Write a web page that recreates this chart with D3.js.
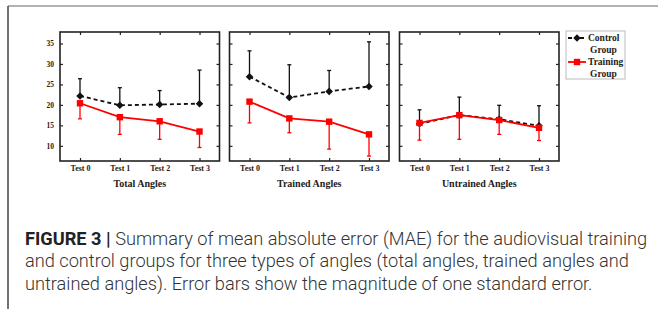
<!DOCTYPE html>
<html>
<head>
    <title>MAE chart</title>
    <script src="https://d3js.org/d3.v7.min.js"></script>
    <style>
        body { margin: 0; background: #fff; }
        svg text.serif { font-family: "Liberation Serif", "Times New Roman", serif; font-weight: bold; fill: #222; }
        svg text.cap { font-family: Roboto, "Liberation Sans", sans-serif; fill: #333; }
    </style>
</head>
<body>
    <div id="chart"></div>

    <script>
        var tests = ["Test 0", "Test 1", "Test 2", "Test 3"];
        var panelTitles = ["Total Angles", "Trained Angles", "Untrained Angles"];
        var yTicks = [10, 15, 20, 25, 30, 35];

        // one row per panel: total, trained, untrained
        var controlMean = [[22.2, 19.9, 20.1, 20.3], [26.9, 21.8, 23.3, 24.5], [15.4, 17.5, 16.5, 14.9]];
        var controlSE = [[4.2, 4.3, 3.4, 8.2], [6.3, 8.0, 5.1, 10.9], [3.4, 4.4, 3.4, 4.9]];
        var trainingMean = [[20.4, 17.0, 16.0, 13.5], [20.8, 16.7, 15.9, 12.8], [15.6, 17.5, 16.3, 14.4]];
        var trainingSE = [[3.8, 4.2, 4.4, 3.9], [5.2, 3.5, 6.7, 5.3], [4.2, 5.9, 3.5, 3.1]];

        var captionLines = [
            [["FIGURE 3 | ", true], ["Summary of mean absolute error (MAE) for the audiovisual training", false]],
            [["and control groups for three types of angles (total angles, trained angles and", false]],
            [["untrained angles). Error bars show the magnitude of one standard error.", false]]
        ];

        var width = 658, height = 309;
        var svg = d3.select("#chart").append("svg").attr("width", width).attr("height", height);

        // outer figure frame
        svg.append("line").attr("x1", 8).attr("x2", width).attr("y1", 6).attr("y2", 6)
            .attr("stroke", "#999").attr("stroke-width", 1.5);
        svg.append("line").attr("x1", 8).attr("x2", 8).attr("y1", 6).attr("y2", height)
            .attr("stroke", "#444").attr("stroke-width", 1.5);

        var panelLeft = [60, 229.5, 399.5];
        var pw = 159.5, plotTop = 32, plotBottom = 161;

        var y = d3.scaleLinear().domain([6.3, 37.8]).range([plotBottom, plotTop]);
        var x = d3.scalePoint().domain(tests).range([20, pw - 20]);

        panelTitles.forEach(function(title, p) {
            var g = svg.append("g").attr("transform", "translate(" + panelLeft[p] + ",0)");

            // inward ticks on all four sides
            g.append("g").attr("transform", "translate(0," + plotBottom + ")")
                .call(d3.axisBottom(x).tickSizeInner(-3).tickSizeOuter(0).tickPadding(4))
                .call(function(a) {
                    a.select(".domain").remove();
                    a.selectAll("text").attr("class", "serif").attr("font-size", 8);
                });
            g.append("g").attr("transform", "translate(0," + plotTop + ")")
                .call(d3.axisTop(x).tickSizeInner(-3).tickSizeOuter(0).tickFormat(""))
                .call(function(a) { a.select(".domain").remove(); });
            g.append("g")
                .call(d3.axisLeft(y).tickValues(yTicks).tickSizeInner(-3).tickSizeOuter(0).tickPadding(6)
                    .tickFormat(p === 0 ? d3.format("d") : ""))
                .call(function(a) {
                    a.select(".domain").remove();
                    a.selectAll("text").attr("class", "serif").attr("font-size", 7.5);
                });
            g.append("g").attr("transform", "translate(" + pw + ",0)")
                .call(d3.axisRight(y).tickValues(yTicks).tickSizeInner(-3).tickSizeOuter(0).tickFormat(""))
                .call(function(a) { a.select(".domain").remove(); });
            g.selectAll(".tick line").attr("stroke", "#222").attr("stroke-width", 1.2);

            g.append("rect").attr("x", 0).attr("y", plotTop).attr("width", pw).attr("height", plotBottom - plotTop)
                .attr("fill", "none").attr("stroke", "#222").attr("stroke-width", 1.6);

            g.append("text").attr("class", "serif").attr("x", pw / 2).attr("y", 187)
                .attr("text-anchor", "middle").attr("font-size", 10).text(title);

            var line = d3.line().x(function(d, i) { return x(tests[i]); }).y(function(d) { return y(d); });

            // control group: dashed black, error bar upward
            var cm = controlMean[p], cs = controlSE[p];
            cm.forEach(function(m, i) {
                var cx = x(tests[i]), y1 = y(m + cs[i]);
                g.append("line").attr("x1", cx).attr("x2", cx).attr("y1", y(m)).attr("y2", y1)
                    .attr("stroke", "#111").attr("stroke-width", 1.3);
                g.append("line").attr("x1", cx - 2).attr("x2", cx + 2).attr("y1", y1).attr("y2", y1)
                    .attr("stroke", "#111").attr("stroke-width", 1.3);
            });
            g.append("path").attr("d", line(cm)).attr("fill", "none").attr("stroke", "#111")
                .attr("stroke-width", 1.8).attr("stroke-dasharray", "4,3");
            g.selectAll(".diamond").data(cm).enter().append("path")
                .attr("transform", function(d, i) { return "translate(" + x(tests[i]) + "," + y(d) + ")"; })
                .attr("d", d3.symbol().type(d3.symbolDiamond2).size(36)).attr("fill", "#111");

            // training group: solid red, error bar downward
            var tm = trainingMean[p], ts = trainingSE[p];
            tm.forEach(function(m, i) {
                var cx = x(tests[i]), y1 = y(m - ts[i]);
                g.append("line").attr("x1", cx).attr("x2", cx).attr("y1", y(m)).attr("y2", y1)
                    .attr("stroke", "#f00").attr("stroke-width", 1.3);
                g.append("line").attr("x1", cx - 2).attr("x2", cx + 2).attr("y1", y1).attr("y2", y1)
                    .attr("stroke", "#f00").attr("stroke-width", 1.3);
            });
            g.append("path").attr("d", line(tm)).attr("fill", "none").attr("stroke", "#f00")
                .attr("stroke-width", 1.8);
            g.selectAll(".square").data(tm).enter().append("rect")
                .attr("x", function(d, i) { return x(tests[i]) - 3.2; })
                .attr("y", function(d) { return y(d) - 3.2; })
                .attr("width", 6.4).attr("height", 6.4).attr("fill", "#f00");
        });

        // legend
        var lg = svg.append("g").attr("transform", "translate(566,31)");
        lg.append("rect").attr("width", 59).attr("height", 48).attr("fill", "#fff")
            .attr("stroke", "#bbb").attr("stroke-width", 1);
        lg.append("line").attr("x1", 2).attr("x2", 20).attr("y1", 7).attr("y2", 7)
            .attr("stroke", "#111").attr("stroke-width", 1.8).attr("stroke-dasharray", "4,2");
        lg.append("path").attr("transform", "translate(11,7)")
            .attr("d", d3.symbol().type(d3.symbolDiamond2).size(36)).attr("fill", "#111");
        lg.append("line").attr("x1", 2).attr("x2", 20).attr("y1", 31).attr("y2", 31)
            .attr("stroke", "#f00").attr("stroke-width", 1.8);
        lg.append("rect").attr("x", 7.8).attr("y", 27.8).attr("width", 6.4).attr("height", 6.4).attr("fill", "#f00");
        [["Control", 22, 10], ["Group", 24, 22], ["Training", 22, 34], ["Group", 24, 45.5]].forEach(function(t) {
            lg.append("text").attr("class", "serif").attr("x", t[1]).attr("y", t[2])
                .attr("font-size", 9.5).text(t[0]);
        });

        // caption
        captionLines.forEach(function(parts, li) {
            var t = svg.append("text").attr("class", "cap").attr("x", 25).attr("y", 245 + li * 22.3)
                .attr("font-size", 18.2);
            parts.forEach(function(part) {
                t.append("tspan").attr("font-weight", part[1] ? 700 : 300)
                    .attr("fill", part[1] ? "#222" : "#333").text(part[0]);
            });
        });
    </script>
</body>
</html>
